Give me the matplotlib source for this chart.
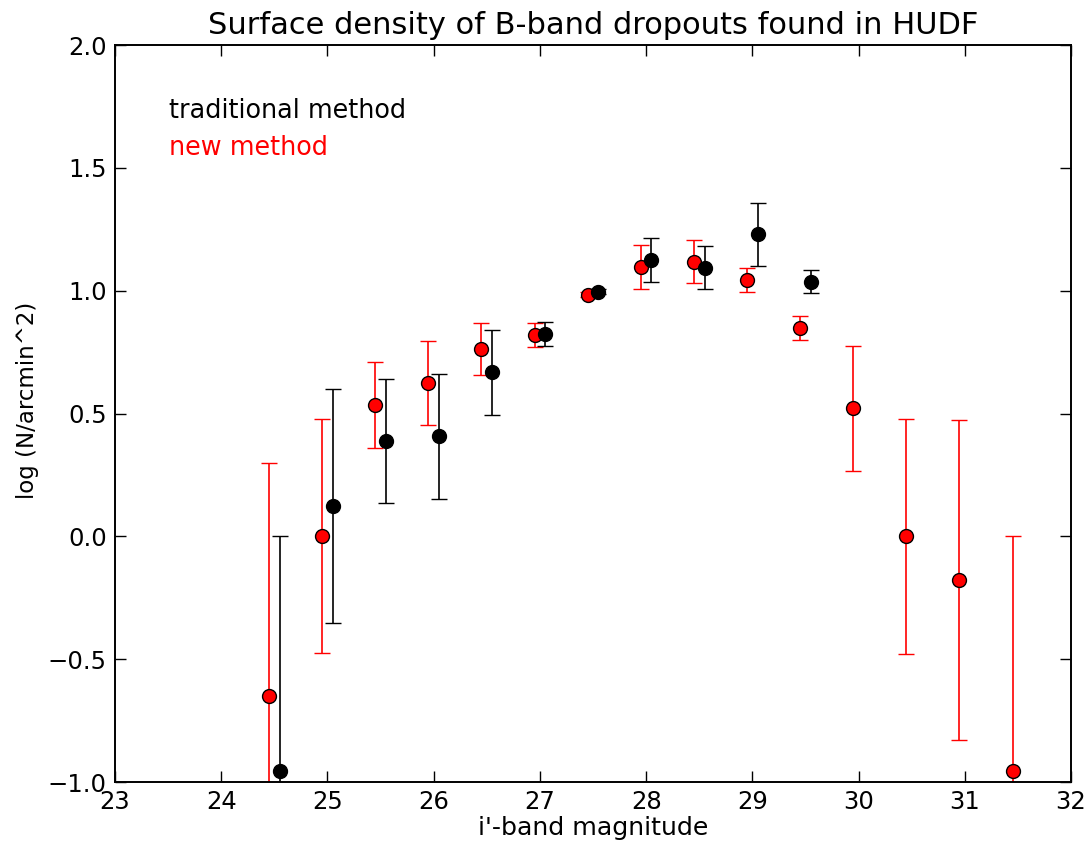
"""Surface density of B-band dropouts in the HUDF: traditional vs new selection."""

import matplotlib
matplotlib.use("Agg")
import matplotlib.pyplot as plt

# new method (red), offset slightly left of bin centre
new_mag = [24.45, 24.95, 25.45, 25.95, 26.45, 26.95, 27.45, 27.95,
           28.45, 28.95, 29.45, 29.95, 30.45, 30.95, 31.45]
new_logn = [-0.65, 0.00, 0.535, 0.625, 0.763, 0.820, 0.983, 1.098,
            1.118, 1.044, 0.849, 0.522, 0.00, -0.177, -0.954]
new_err = [0.95, 0.476, 0.175, 0.172, 0.106, 0.05, 0.01, 0.09,
           0.088, 0.05, 0.048, 0.254, 0.477, 0.652, 0.954]

# traditional method (black), offset slightly right
old_mag = [24.55, 25.05, 25.55, 26.05, 26.55, 27.05, 27.55, 28.05,
           28.55, 29.05, 29.55]
old_logn = [-0.955, 0.124, 0.388, 0.408, 0.668, 0.824, 0.995, 1.124,
            1.093, 1.230, 1.037]
old_err = [0.955, 0.476, 0.253, 0.254, 0.172, 0.05, 0.01, 0.09,
           0.087, 0.128, 0.047]


def main():
    fig = plt.figure(figsize=(10.91, 8.48), dpi=100)
    ax = fig.add_axes([0.1054, 0.0778, 0.8763, 0.8691])

    style = dict(fmt="o", markersize=10, markeredgecolor="black",
                 markeredgewidth=1.0, capsize=6, elinewidth=1.2,
                 capthick=1.2, linestyle="none")
    ax.errorbar(new_mag, new_logn, yerr=new_err, color="red",
                markerfacecolor="red", ecolor="red", **style)
    ax.errorbar(old_mag, old_logn, yerr=old_err, color="black",
                markerfacecolor="black", ecolor="black", **style)

    ax.set_xlim(23, 32)
    ax.set_ylim(-1.0, 2.0)
    ax.set_xticks(range(23, 33))
    ax.set_yticks([-1.0, -0.5, 0.0, 0.5, 1.0, 1.5, 2.0])
    ax.tick_params(direction="in", top=True, right=True, length=8,
                   width=1.0, labelsize=17.5, pad=6)
    for sp in ax.spines.values():
        sp.set_linewidth(1.4)

    ax.text(0.056, 0.901, "traditional method", color="black", fontsize=18.4,
            transform=ax.transAxes, va="baseline")
    ax.text(0.056, 0.851, "new method", color="red", fontsize=18.4,
            transform=ax.transAxes, va="baseline")

    ax.set_title("Surface density of B-band dropouts found in HUDF",
                 fontsize=22, pad=8)
    ax.set_xlabel("i'-band magnitude", fontsize=18.2, labelpad=1)
    ax.set_ylabel("log (N/arcmin^2)", fontsize=16.5)
    ax.yaxis.set_label_coords(-0.080, 0.518)

    fig.savefig("out.png", dpi=100)


if __name__ == "__main__":
    main()
